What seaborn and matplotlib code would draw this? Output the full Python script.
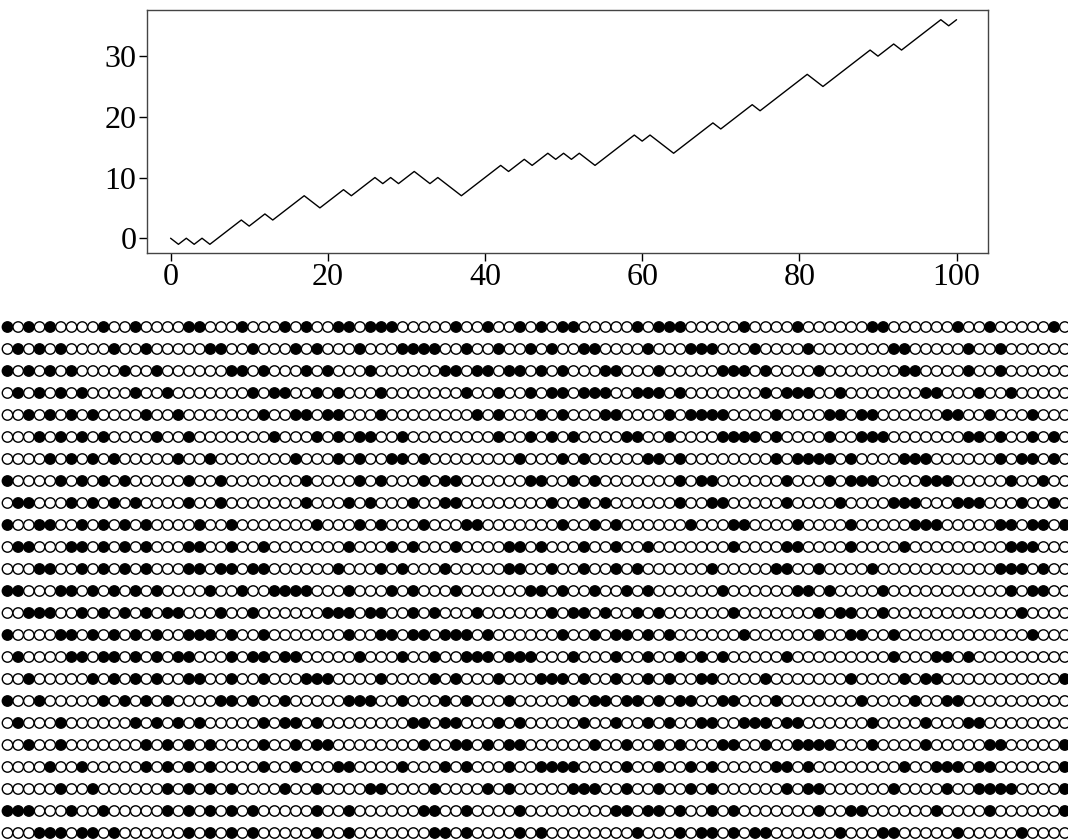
import matplotlib
matplotlib.use("Agg")
import matplotlib.pyplot as plt
import seaborn as sns
import pandas as pd

sns.set_theme(style="white")
plt.rcParams["font.family"] = ["Liberation Serif", "DejaVu Serif"]

# ---- data -------------------------------------------------------------
steps = list(range(101))
walk = [0, -1, 0, -1, 0, -1, 0, 1, 2, 3,
        2, 3, 4, 3, 4, 5, 6, 7, 6, 5,
        6, 7, 8, 7, 8, 9, 10, 9, 10, 9,
        10, 11, 10, 9, 10, 9, 8, 7, 8, 9,
        10, 11, 12, 11, 12, 13, 12, 13, 14, 13,
        14, 13, 14, 13, 12, 13, 14, 15, 16, 17,
        16, 17, 16, 15, 14, 15, 16, 17, 18, 19,
        18, 19, 20, 21, 22, 21, 22, 23, 24, 25,
        26, 27, 26, 25, 26, 27, 28, 29, 30, 31,
        30, 31, 32, 31, 32, 33, 34, 35, 36, 35,
        36]
x_ticks = [0, 20, 40, 60, 80, 100]
y_ticks = [0, 10, 20, 30]

row_0 = ("●○●○●○○○○●○○●○○○○●●○○○●○○○●○●○○●●○●●●○○○"
         "○○●○○●○○●○●○●●○○○○○●○●●●○○○○○●○○○○●○○○○○"
         "○●●○○○○○○●○○●○○○○○●○")
left_rows = [
    "○●○●○●○○○○●○○●○○○○○●●○○●○○○●○●○○○●○○○●●●●○○●○○●○○●",
    "●○●○●○●○○○○●○○●○○○○○○●●○●○○○●○●○○○●○○○○○○●●○●●○●●○",
    "○●○●○●○●○○○○●○○●○○○○○○○●○●●○○●○●○○○●○○○○○○○●○○●○○●",
    "○○●○●○●○●○○○○●○○●○○○○○○○●○○●●○●●○○○●○○○○○○○○●○●○○",
    "○○○●○●○●○●○○○○●○○●○○○○○○○●○○○●○●○●●○○●○○○○○○○○●○○●",
    "○○○○●○●○●○●○○○○○●○○●○○○○○○○●○○○●○●○○●●○●○○○○○○○○●○○●",
    "●○○○○●○●○●○●○○○○○●○○●○○○○○○○●○○○○●○●○○○●○●●○○○○○○●○○",
    "○●●○○○●○●○●○●○○○○●○○●○○○○○○○●○○○●○●○○○●○○●●○○○○○○○●●",
    "●○○●●○○●○●○●○●○○○○●○○●○○○○○○○●○○○●○●○○○●○○○●●○○○○○○●",
    "○●●○○○●●○●○●○●○○○●●○○●○○●○○○○○○○●○○○●○●○○○●○○○○●●○○",
    "○○○●●○○●○●○●○●○○○●●○●●○●●○○○○○○●○○○●○●○○○●○○○○○●●○",
    "●●○○○●●○●○●○●○●○○○○●○○●○○●●●●○○○●○○○●○●○○○●○○○○○○●",
    "○○●●●○○●○●○●○●○●●○○○●○○●○○○○○○●●●○●●○○●○●○○○●○○○○○○",
    "●○○○○●●○●○●○●○●○○●●●○●○○●○○○○○○○●○○●●○●●○●●●○●○○○○○",
    "○●○○○○●●○●●○●○●○●●○○○●○●●○●●○○○○○●○○○●○○●○○●●●○●●●",
    "○○●○○○○○●○●○●○●○○●●○○●○○●○○○●●●○○○○●○○○○●○●○○○●○○○●",
    "●○○●○○○○○●○●○●○●○○○○●●○●○○●○○○○○●●●○○●○○○●○●○○○●○○○",
    "○●○○○●○○○○○○●○●○●○●○○○○○●○●●○●○○○○○○○○●●○●●○○○●○●○○○",
    "○○●○○●○○○○○○○●○●○●○●○○○○●○○●○●●○○○○○○○○●○○●●○●○●●○○●",
    "○○○○●○○●○○○○○●○●○●○●○○○○●○○●○○○●●○○○○●○○○●○●○○○●○○",
    "○○○○○●○○●○○○○○○●○●○●○●○○○○●○○●○○○○●●○○○○●○○○○●○●○○",
    "●●●○○○●○○●○○○○○●○●○●○●○●○○○○○●○○●○○○○○○●●○○●○○○○●○●○",
    "○○○●●●○●●○●○○○○○○●○●○●○●○○○○○●○○●○○○○○○○●●○●○○○○●○●○",
]
right_rows = [
    "●○●○○●●○○○○●○○○●●●○○○●○○○○●○○○○○○○●●○○○○○●○○●○○○○○○",
    "○●○●○○○●●○○○●○○○○○●●●○●○○○○●○○○○○○○●●○○○○●○○●○○○○○○",
    "●○●●○●●●○○●●●○●○○○○○○○●○●●●○○●○○○○○○○●●○○○●○○●○○○○○",
    "○●○●○○○●●○○○○●○●●●●○○○○●○○○○●●○●●○○○○○○●●○○●○○○●○○",
    "○○●○●○○○○●●○○●○○○○●●●●○●○○○○●○○●●●○○○○○○○●●○●○○●○●",
    "●○○●○●○○○○○●●○●○○○○○○○○●○●●●●○●○○○○●●●○○○○○○●○●●○●",
    "○●○○●○●○○○○○○○●○●●○○○○○○●○○○●○●●●○○○○●●●○○○○○●○○●○",
    "○○●○○●○●○○○○○○●○○●●○○○○○●○○○○●○○○○●●●○○○●●●○○○●○○●○",
    "●○○●○○●○●○○○○○○●○○○●●○○○○●○○○○●○○○○○●●●○○○○○●●○●●○●",
    "○●○○○●○○●○○●○○○○○○○●○○○○●●○○○○●○○○○●○○○○○○○○○●●●○○○●",
    "○○●○○●○○●○●○○○○○○●○○○○○●●○○●○○○○●○○○○○○○○○○○●●●○●○○●",
    "●●○●○○●○○●○●○○○○○○●○○○○○○●●○●○○○○●○○○○○○○○○○○●○●●○○",
    "○○●○●●○●○○●○●○○○○○○●○○○○○○○●○●●○○●○○○○○○○○○○○○●○○○○",
    "○○○●○○●○●●○●○●○○○○○○●○○○○○○●○○●●○○●○○○○○○○○○○○○●○○○",
    "○○○○●○○○●○○●○○●○●○●○○○○○●○○○○○○○○○●○○○●●○●○○○○○○○○○",
    "●●●●○●○○●○○●○●○○●●○○○○●○○○○○○○●○○○○●○●●○○○○○○○○○○○●",
    "○○○○●○●●○●●○●○●●○○●●○○○●○○○○○○○●○○○○●○○●●○○○○○○○○○○○",
    "○○○○○●○○●○○●○●○○●●○○●●●○●●○○○○○○●○○○○●○○○●●○○○○○○○○",
    "○○○○○○●○○●○○●○●○○○●●○○●○○●●●●○○○●○○○○●○○○○○●●○○○○○●",
    "○●●●●○○○○●○○●○○●○●○○○○○●●○●○○○○○○○○●○○●●●○●●○○○○○○●●",
    "○○○○●●●○○●○○●○○●○●○○○○○○●○●●○○○○○○●○○○○●○○●●●●○○○○●●",
    "●○○○○○○○●●○●●○●○○●○●○○○○○○○●○○●●○○○○○○●○○○○●○○○○○○●●●",
    "○●○○○○○○○○●○○○●○●●○●○●●○○○○○○●○○○●●○○○○○●○○○○○●○○○○○○",
]

grid_rows = [row_0]
for left, right in zip(left_rows, right_rows):
    row = left[:50].ljust(50, "○") + right[1:51].ljust(50, "○")
    grid_rows.append(row)

records = []
for r, row in enumerate(grid_rows):
    for c, ch in enumerate(row):
        records.append({"col": c, "row": r, "state": 1 if ch == "●" else 0})
cells = pd.DataFrame(records)
walk_df = pd.DataFrame({"step": steps, "position": walk})

# ---- figure -----------------------------------------------------------
W, H = 1068, 840
fig = plt.figure(figsize=(W / 100, H / 100), dpi=100)

ax1 = fig.add_axes([147 / W, 1 - 252.5 / H, (988 - 147) / W, (252.5 - 10) / H])
sns.lineplot(data=walk_df, x="step", y="position", color="black",
             linewidth=1.0, ax=ax1)
ax1.set_xlim(-3.0, 104.0)
ax1.set_ylim(-2.35, 37.6)
ax1.set_xticks(x_ticks)
ax1.set_yticks(y_ticks)
ax1.set_xlabel("")
ax1.set_ylabel("")
for sp in ax1.spines.values():
    sp.set_visible(True)
    sp.set_color("#444444")
    sp.set_linewidth(1.0)
ax1.tick_params(axis="both", which="major", direction="out", length=6,
                width=1.0, color="black", labelsize=23, labelcolor="black",
                pad=1.5, bottom=True, left=True)

# circle grid
top_px = 315
ax2 = fig.add_axes([0, 0, 1, (H - top_px) / H])
x0, dx = 7.5, 10.68
y0, dy = 327.0, 22.0
sns.scatterplot(data=cells, x="col", y="row", hue="state",
                palette={0: "white", 1: "black"}, edgecolor="black",
                linewidth=1.0, s=56, legend=False, ax=ax2, zorder=3)
ax2.set_xlim((0 - x0) / dx, (W - x0) / dx)
ax2.set_ylim((H - y0) / dy, (top_px - y0) / dy)
ax2.axis("off")

fig.savefig("out.png", dpi=100)
